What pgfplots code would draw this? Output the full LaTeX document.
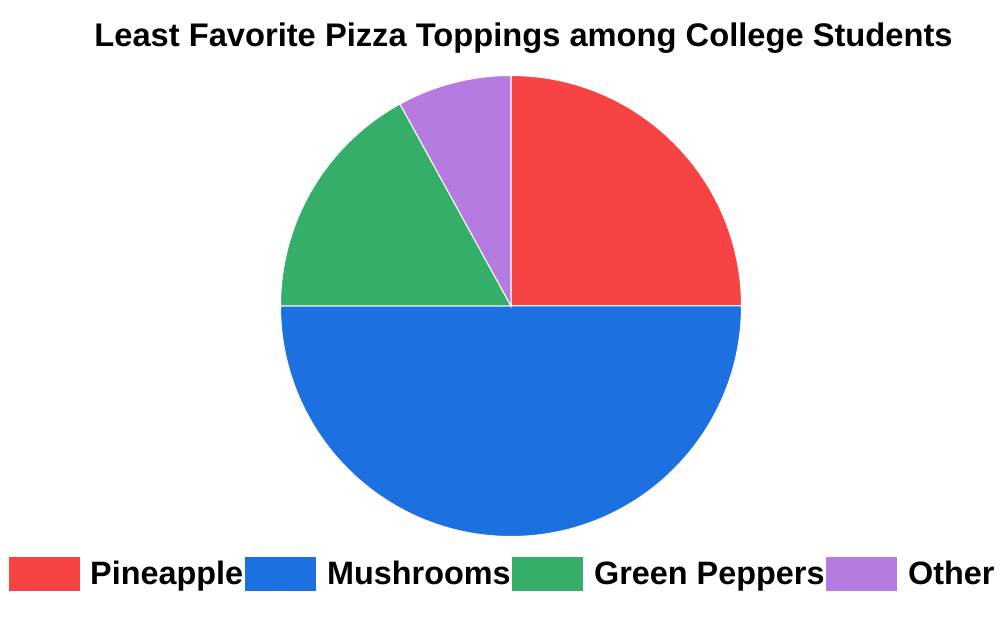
\documentclass[border=0pt]{standalone}
\usepackage{pgfplots}
\usepackage{pgfplotstable}
\pgfplotsset{compat=1.18}
\usepackage{fontspec}
\setmainfont{Liberation Sans}
\definecolor{cPine}{RGB}{247,67,67}
\definecolor{cMush}{RGB}{29,112,224}
\definecolor{cGreen}{RGB}{53,174,105}
\definecolor{cOther}{RGB}{181,123,225}

\pgfplotstableread{
value
25
50
17
8
}\piedata

\pgfplotstablegetelem{0}{value}\of\piedata \let\vA\pgfplotsretval
\pgfplotstablegetelem{1}{value}\of\piedata \let\vB\pgfplotsretval
\pgfplotstablegetelem{2}{value}\of\piedata \let\vC\pgfplotsretval
\pgfplotstablegetelem{3}{value}\of\piedata \let\vD\pgfplotsretval
\pgfmathsetmacro\tot{\vA+\vB+\vC+\vD}
\pgfmathsetmacro\aA{90}
\pgfmathsetmacro\aB{\aA-(\vA/\tot)*360}
\pgfmathsetmacro\aC{\aB-(\vB/\tot)*360}
\pgfmathsetmacro\aD{\aC-(\vC/\tot)*360}
\pgfmathsetmacro\aE{\aD-(\vD/\tot)*360}

\begin{document}
\begin{tikzpicture}
\begin{axis}[
  at={(0,0)}, anchor=south west,
  scale only axis, width=1000bp, height=621bp,
  xmin=0, xmax=1000, ymin=0, ymax=621,
  hide axis, clip=false,
]
\def\cx{511}\def\cy{315}\def\R{230.5bp}
\fill[cPine, draw=white, line width=1bp] (axis cs:\cx,\cy) -- ++(\aA:\R) arc[start angle=\aA, end angle=\aB, radius=\R] -- cycle;
\fill[cMush, draw=white, line width=1bp] (axis cs:\cx,\cy) -- ++(\aB:\R) arc[start angle=\aB, end angle=\aC, radius=\R] -- cycle;
\fill[cGreen, draw=white, line width=1bp] (axis cs:\cx,\cy) -- ++(\aC:\R) arc[start angle=\aC, end angle=\aD, radius=\R] -- cycle;
\fill[cOther, draw=white, line width=1bp] (axis cs:\cx,\cy) -- ++(\aD:\R) arc[start angle=\aD, end angle=\aE, radius=\R] -- cycle;

\node[anchor=base, font=\fontsize{32.8}{38}\selectfont\bfseries] at (axis cs:523.5,574) {Least Favorite Pizza Toppings among College Students};

% legend
\fill[cPine] (axis cs:9,30) rectangle (axis cs:80,64);
\fill[cMush] (axis cs:245,30) rectangle (axis cs:316,64);
\fill[cGreen] (axis cs:512,30) rectangle (axis cs:583,64);
\fill[cOther] (axis cs:826,30) rectangle (axis cs:897,64);
\node[anchor=base west, inner sep=0pt, font=\fontsize{32.5}{38}\selectfont\bfseries] at (axis cs:90,36) {Pineapple};
\node[anchor=base west, inner sep=0pt, font=\fontsize{32.5}{38}\selectfont\bfseries] at (axis cs:327,36) {Mushrooms};
\node[anchor=base west, inner sep=0pt, font=\fontsize{32.5}{38}\selectfont\bfseries] at (axis cs:594,36) {Green Peppers};
\node[anchor=base west, inner sep=0pt, font=\fontsize{32.5}{38}\selectfont\bfseries] at (axis cs:908,36) {Other};
\end{axis}
\path[use as bounding box] (0,0) rectangle (1000bp,621bp);
\end{tikzpicture}
\end{document}
